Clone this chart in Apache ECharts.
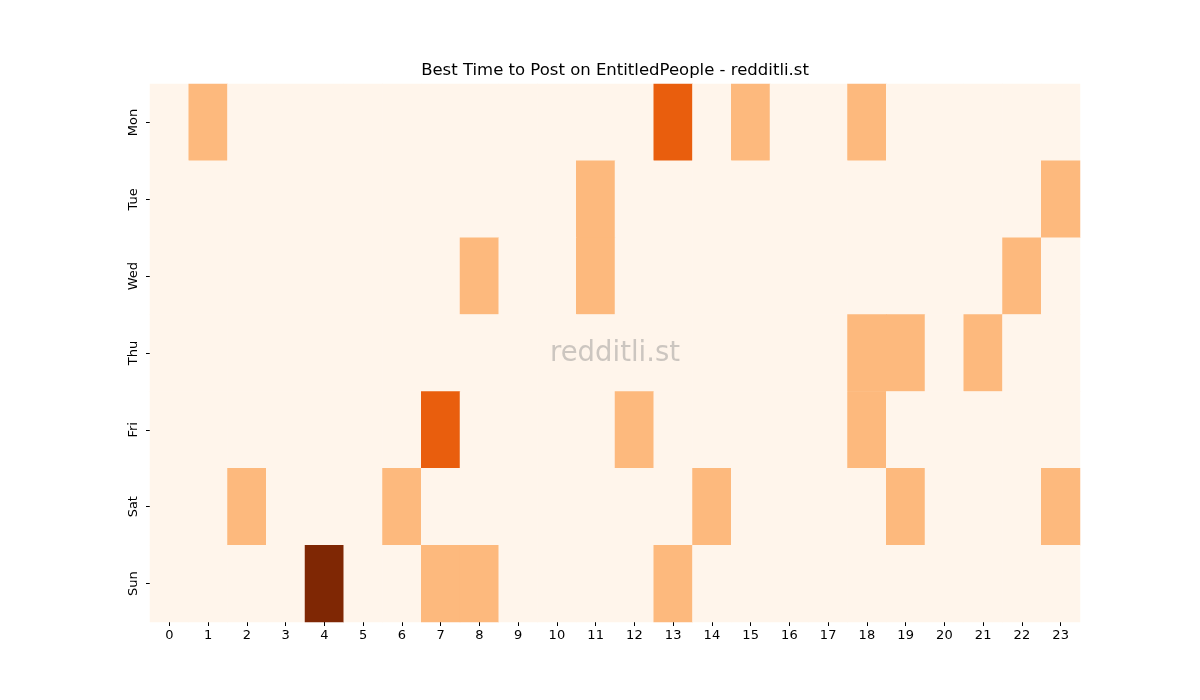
<!DOCTYPE html>
<html>
<head>
<meta charset="utf-8">
<script src="https://cdn.jsdelivr.net/npm/echarts@6/dist/echarts.min.js"></script>
<style>html,body{margin:0;padding:0;background:#fff;}#c{width:1200px;height:700px;}</style>
</head>
<body>
<div id="c"></div>
<script>
const hours = ['0','1','2','3','4','5','6','7','8','9','10','11','12','13','14','15','16','17','18','19','20','21','22','23'];
const days = ['Mon','Tue','Wed','Thu','Fri','Sat','Sun'];
const mon = [0,1,0,0,0,0,0,0,0,0,0,0,0,2,0,1,0,0,1,0,0,0,0,0];
const tue = [0,0,0,0,0,0,0,0,0,0,0,1,0,0,0,0,0,0,0,0,0,0,0,1];
const wed = [0,0,0,0,0,0,0,0,1,0,0,1,0,0,0,0,0,0,0,0,0,0,1,0];
const thu = [0,0,0,0,0,0,0,0,0,0,0,0,0,0,0,0,0,0,1,1,0,1,0,0];
const fri = [0,0,0,0,0,0,0,2,0,0,0,0,1,0,0,0,0,0,1,0,0,0,0,0];
const sat = [0,0,1,0,0,0,1,0,0,0,0,0,0,0,1,0,0,0,0,1,0,0,0,1];
const sun = [0,0,0,0,3,0,0,1,1,0,0,0,0,1,0,0,0,0,0,0,0,0,0,0];
const rows = [mon,tue,wed,thu,fri,sat,sun];
const data = [];
rows.forEach((r, yi) => r.forEach((v, xi) => data.push([xi, yi, v])));

const chart = echarts.init(document.getElementById('c'));
const font = 'DejaVu Sans';
chart.setOption({
  animation: false,
  backgroundColor: '#ffffff',
  grid: {left: 150, right: 120, top: 84, bottom: 78},
  xAxis: {
    type: 'category', data: hours,
    axisLine: {show: false},
    axisTick: {show: true, alignWithLabel: true, length: 4, lineStyle: {color: '#000'}},
    axisLabel: {fontFamily: font, fontSize: 13, color: '#000', margin: 7},
    splitLine: {show: false}
  },
  yAxis: {
    type: 'category', data: days, inverse: true,
    axisLine: {show: false},
    axisTick: {show: true, alignWithLabel: true, length: 4, lineStyle: {color: '#000'}},
    axisLabel: {fontFamily: font, fontSize: 13, color: '#000', rotate: 90, margin: 10},
    splitLine: {show: false}
  },
  visualMap: {
    show: false, min: 0, max: 3, dimension: 2,
    inRange: {color: ['#fff5eb','#fee6ce','#fdd0a2','#fdae6b','#fd8d3c','#f16913','#d94801','#a63603','#7f2704']}
  },
  series: [{
    type: 'heatmap', data: data,
    itemStyle: {borderWidth: 0},
    emphasis: {disabled: true}
  }],
  graphic: [{
    type: 'text', x: 615, y: 71,
    style: {text: 'Best Time to Post on EntitledPeople - redditli.st', align: 'center', verticalAlign: 'middle',
      font: '16.5px "DejaVu Sans"', fill: '#000'},
    z: 100
  }, {
    type: 'text', x: 615, y: 354,
    style: {text: 'redditli.st', align: 'center', verticalAlign: 'middle',
      font: '27.5px "DejaVu Sans"', fill: 'rgba(128,128,128,0.4)'},
    z: 100
  }]
});
</script>
</body>
</html>
